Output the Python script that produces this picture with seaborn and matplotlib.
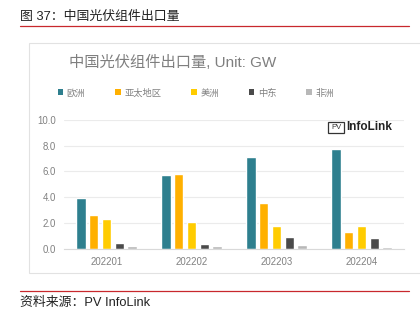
import matplotlib
matplotlib.use("Agg")
import matplotlib.pyplot as plt
from matplotlib.patches import Rectangle
from matplotlib.lines import Line2D
import seaborn as sns
import pandas as pd

# ---- data ----
months = ["202201", "202202", "202203", "202204"]
regions = ["欧洲", "亚太地区", "美洲", "中东", "非洲"]
europe = [3.92, 5.69, 7.09, 7.77]
apac = [2.65, 5.77, 3.53, 1.27]
americas = [2.29, 2.05, 1.74, 1.74]
mideast = [0.47, 0.34, 0.91, 0.81]
africa = [0.23, 0.18, 0.29, 0.16]
yticks = [0, 2, 4, 6, 8, 10]

series = [europe, apac, americas, mideast, africa]
rows = []
for reg, vals in zip(regions, series):
    for m, v in zip(months, vals):
        rows.append({"month": m, "region": reg, "value": v})
df = pd.DataFrame(rows)

colors = ["#2E7F8E", "#FFB000", "#FFCC00", "#4A4A4A", "#B8B8B8"]

sns.set_theme(style="white")
plt.rcParams["font.family"] = ["Liberation Sans", "Noto Sans CJK SC", "DejaVu Sans"]

W, H = 420, 322
fig = plt.figure(figsize=(W / 100, H / 100), dpi=100)
fig.patch.set_facecolor("white")

def fx(px):
    return px / W

def fy(py):
    return 1 - py / H

# card border
fig.add_artist(Rectangle((fx(29), fy(273)), 1.2, fy(43) - fy(273),
                         transform=fig.transFigure, facecolor="white",
                         edgecolor="#E2E2E2", linewidth=0.8, zorder=0))

ax = fig.add_axes([fx(64), fy(248.7), fx(404) - fx(64), fy(120) - fy(248.7)])
ax.set_facecolor("none")

sns.barplot(data=df, x="month", y="value", hue="region", order=months,
            hue_order=regions, palette=colors, width=0.76, gap=0.25,
            saturation=1, ax=ax, legend=False)

ax.set_xlim(-0.5, 3.5)
ax.set_ylim(0, 10)
ax.set_yticks(yticks)
ax.set_yticklabels([f"{t:.1f}" for t in yticks])
ax.set_xlabel("")
ax.set_ylabel("")
ax.grid(axis="y", color="#EBEBEB", linewidth=0.8)
ax.set_axisbelow(True)
for s in ["top", "right", "left"]:
    ax.spines[s].set_visible(False)
ax.spines["bottom"].set_color("#D9D9D9")
ax.spines["bottom"].set_linewidth(0.8)
ax.tick_params(axis="both", length=0, labelsize=6.9, labelcolor="#808080")
ax.tick_params(axis="y", pad=6)
ax.tick_params(axis="x", pad=6)

# legend
handles = [Rectangle((0, 0), 1, 1, facecolor=c, edgecolor="none") for c in colors]
leg = fig.legend(handles, regions, ncol=5, loc="center left",
                 bbox_to_anchor=(fx(57.5), fy(93)), frameon=False,
                 fontsize=6.7, handlelength=0.6, handleheight=0.6,
                 handletextpad=0.4, columnspacing=3.2, borderpad=0,
                 borderaxespad=0)
for t in leg.get_texts():
    t.set_color("#808080")

# chart title
fig.text(fx(69), fy(62.5), "中国光伏组件出口量, Unit: GW", fontsize=11,
         color="#7F7F7F", va="center", ha="left")

# logo
fig.add_artist(Rectangle((fx(328), fy(133)), fx(344) - fx(328), fy(122) - fy(133),
                         transform=fig.transFigure, facecolor="white",
                         edgecolor="#333333", linewidth=0.9, zorder=5))
fig.text(fx(336), fy(127.5), "PV", fontsize=5.5, color="#333333", va="center",
         ha="center", zorder=6)
fig.text(fx(346.5), fy(127.5), "InfoLink", fontsize=8.5, color="#222222",
         va="center", ha="left", fontweight="bold", zorder=6)

# report header / footer
fig.text(fx(20), fy(17), "图 37：中国光伏组件出口量", fontsize=9.3,
         color="#222222", va="center", ha="left")
fig.add_artist(Line2D([fx(20), fx(409)], [fy(26), fy(26)], color="#C8282D",
                      linewidth=0.9, transform=fig.transFigure))
fig.add_artist(Line2D([fx(20), fx(409)], [fy(291), fy(291)], color="#C8282D",
                      linewidth=0.9, transform=fig.transFigure))
fig.text(fx(20), fy(302.5), "资料来源：PV InfoLink", fontsize=9.3,
         color="#222222", va="center", ha="left")

fig.savefig("out.png", dpi=100, facecolor="white")
